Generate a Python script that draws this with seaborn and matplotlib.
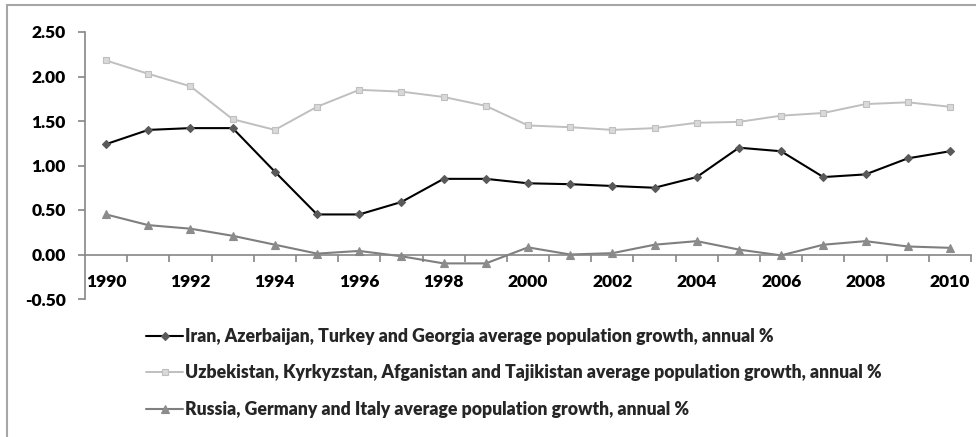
import matplotlib
matplotlib.use("Agg")
import matplotlib.pyplot as plt
import seaborn as sns
import pandas as pd
import numpy as np
from matplotlib.patches import Rectangle
from matplotlib.ticker import FixedLocator, FuncFormatter

years = list(range(1990, 2011))
iran_group = [1.24, 1.40, 1.42, 1.42, 0.93, 0.45, 0.45, 0.59, 0.85, 0.85,
              0.80, 0.79, 0.77, 0.75, 0.87, 1.20, 1.16, 0.87, 0.90, 1.08, 1.16]
uzbek_group = [2.18, 2.03, 1.89, 1.52, 1.40, 1.66, 1.85, 1.83, 1.77, 1.67,
               1.45, 1.43, 1.40, 1.42, 1.48, 1.49, 1.56, 1.59, 1.69, 1.71, 1.66]
russia_group = [0.45, 0.33, 0.29, 0.21, 0.11, 0.01, 0.04, -0.02, -0.10, -0.10,
                0.08, 0.00, 0.015, 0.11, 0.15, 0.055, -0.01, 0.11, 0.15, 0.09, 0.075]
labels = ["Iran, Azerbaijan, Turkey and Georgia average population growth, annual %",
          "Uzbekistan, Kyrkyzstan, Afganistan and Tajikistan average population growth, annual %",
          "Russia, Germany and Italy average population growth, annual %"]
y_ticks = [-0.5, 0.0, 0.5, 1.0, 1.5, 2.0, 2.5]

sns.set_theme(style="white")
plt.rcParams['font.family'] = ['Lato', 'DejaVu Sans']

W, H = 976, 437
fig = plt.figure(figsize=(W / 100, H / 100), dpi=100)
ax = fig.add_axes([85 / W, 1 - 299 / H, (971 - 85) / W, (299 - 32) / H])

idx = np.arange(len(years))
styles = [
    dict(color="#000000", marker="D", ms=4.2, mfc="#595959", mec="#595959", lw=1.5),
    dict(color="#BFBFBF", marker="s", ms=5, mfc="#D9D9D9", mec="#BFBFBF", lw=1.4),
    dict(color="#7F7F7F", marker="^", ms=5.5, mfc="#8C8C8C", mec="#8C8C8C", lw=1.5),
]
series = [iran_group, uzbek_group, russia_group]
handles = []
for vals, lab, st in zip(series, labels, styles):
    df = pd.DataFrame({"x": idx, "y": vals})
    sns.lineplot(data=df, x="x", y="y", ax=ax, color=st["color"], linewidth=st["lw"],
                 marker=st["marker"], markersize=st["ms"],
                 markerfacecolor=st["mfc"], markeredgecolor=st["mec"],
                 markeredgewidth=0.8, label=lab, legend=False)
    handles.append(ax.lines[-1])

ax.set_xlim(-0.5, len(years) - 0.5)
ax.set_ylim(-0.5, 2.5)
ax.set_xlabel("")
ax.set_ylabel("")

for s in ["top", "right"]:
    ax.spines[s].set_visible(False)
ax.spines["left"].set_color("#868686")
ax.spines["left"].set_linewidth(1.2)
ax.spines["bottom"].set_position(("data", 0))
ax.spines["bottom"].set_color("#868686")
ax.spines["bottom"].set_linewidth(1.2)

ax.set_yticks(y_ticks)
ax.yaxis.set_major_formatter(FuncFormatter(lambda v, p: f"{v:.2f}"))
ax.tick_params(axis="y", which="major", direction="out", length=5, width=1.2,
               color="#868686", left=True, pad=9, labelsize=12.5)

major_pos = idx[::2]
ax.set_xticks(major_pos)
ax.set_xticklabels([str(years[i]) for i in major_pos])
ax.xaxis.set_minor_locator(FixedLocator(np.arange(0.5, len(years) - 0.4, 1.0)))
ax.tick_params(axis="x", which="major", length=0, pad=14, labelsize=12.5, bottom=True)
ax.tick_params(axis="x", which="minor", direction="out", length=5, width=1.2,
               color="#868686", bottom=True)
for t in ax.get_xticklabels() + ax.get_yticklabels():
    t.set_fontweight("heavy")
    t.set_color("#000000")

leg = fig.legend(handles=handles, labels=labels, loc="upper left",
                 bbox_to_anchor=(146 / W, 1 - 328 / H), frameon=False,
                 borderpad=0, borderaxespad=0,
                 handlelength=2.1, handletextpad=0.12, labelspacing=1.1,
                 prop={"weight": "heavy", "size": 12.7})

fig.patches.append(Rectangle((7 / W, -0.1), 1.2, 1 - 5 / H + 0.1, transform=fig.transFigure,
                             fill=False, edgecolor="#A6A6A6", linewidth=1.5))

fig.savefig("out.png", dpi=100)
